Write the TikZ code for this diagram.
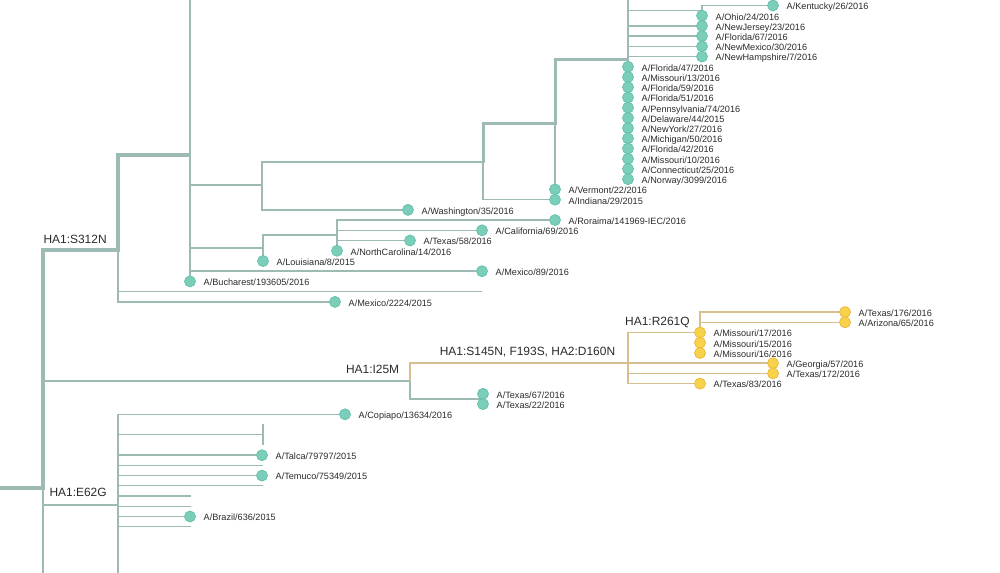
\documentclass[tikz,border=0pt]{standalone}
\usepackage{fontspec}
\setmainfont{Liberation Sans}
\usetikzlibrary{backgrounds}
\definecolor{treeline}{HTML}{9DBBB4}
\definecolor{goldline}{HTML}{D5BF8F}
\definecolor{mint}{HTML}{7ACEBA}
\definecolor{mintrim}{HTML}{62C1A9}
\definecolor{sun}{HTML}{F9D24B}
\definecolor{sunrim}{HTML}{E9B833}
\definecolor{labgray}{HTML}{2B2B2B}
\tikzset{
  strainlab/.style={font=\fontsize{5.2}{6}\selectfont,text=labgray,inner sep=0pt,
    text height=0.134cm,text depth=0pt,xshift=0.15cm,yshift=-0.02cm},
  strain/.style={circle,inner sep=0pt,minimum size=0.22cm,fill=mint,draw=mintrim,
    line width=0.4pt,label={[strainlab]right:#1}},
  strainy/.style={strain=#1,fill=sun,draw=sunrim},
  mut/.style={font=\fontsize{6.8}{8}\selectfont,text=labgray,inner sep=0pt,anchor=base east},
  br/.style={draw=treeline,line width=0.85pt},
  bropen/.style={draw=treeline,line width=0.7pt},
  brup/.style={draw=treeline,line width=1.15pt},
  brmid/.style={draw=treeline,line width=1.7pt},
  brfat/.style={draw=treeline,line width=2.3pt},
  brgold/.style={draw=goldline,line width=0.9pt}
}
\begin{document}
\begin{tikzpicture}[x=0.02cm,y=-0.02cm]
\useasboundingbox (0,0) rectangle (1000,573);

\coordinate (rootin) at (0,488);
\coordinate (root) at (43,488);
\coordinate (rootdown) at (43,580);
\coordinate (s312n) at (118,250);
\coordinate (n190) at (190,155);
\coordinate (up190) at (190,-5);
\coordinate (n262) at (262,185);
\coordinate (n483) at (483,162);
\coordinate (n555) at (555,124);
\coordinate (n628) at (628,60);
\coordinate (up628) at (628,-5);
\coordinate (n702) at (702,10.6);
\coordinate (n263) at (263,248);
\coordinate (n337) at (337,235);
\coordinate (open291) at (482,291.6);
\coordinate (i25m) at (410,381);
\coordinate (s145n) at (628,363.2);
\coordinate (r261q) at (700,332.5);
\coordinate (n483b) at (483,399);
\coordinate (e62g) at (118,505);
\coordinate (down118) at (118,580);
\coordinate (n263b) at (263,434.7);
\coordinate (n263top) at (263,424.5);
\coordinate (n263bot) at (263,444.9);
\coordinate (open465) at (263,465.4);
\coordinate (open486) at (263,485.8);
\coordinate (open496) at (191,496);
\coordinate (open506) at (191,506.3);
\coordinate (open527) at (191,526.7);

\node[strain=A/Kentucky/26/2016] (ky) at (773,5.5) {};
\node[strain=A/Ohio/24/2016] (oh) at (702,15.7) {};
\node[strain=A/NewJersey/23/2016] (nj) at (702,25.9) {};
\node[strain=A/Florida/67/2016] (fl67) at (702,36.1) {};
\node[strain=A/NewMexico/30/2016] (nm) at (702,46.4) {};
\node[strain=A/NewHampshire/7/2016] (nh) at (702,56.6) {};
\foreach \lab [count=\i from 0] in {Florida/47/2016,Missouri/13/2016,Florida/59/2016,
    Florida/51/2016,Pennsylvania/74/2016,Delaware/44/2015,NewYork/27/2016,
    Michigan/50/2016,Florida/42/2016,Missouri/10/2016,Connecticut/25/2016,Norway/3099/2016}{
  \node[strain=A/\lab] (col\i) at (628,{66.8+10.22*\i}) {};
}
\node[strain=A/Vermont/22/2016] (vt) at (555,189.4) {};
\node[strain=A/Indiana/29/2015] (ind) at (555,199.7) {};
\node[strain=A/Washington/35/2016] (wa) at (408,209.9) {};
\node[strain=A/Roraima/141969-IEC/2016] (rr) at (555,220.1) {};
\node[strain=A/California/69/2016] (ca) at (482,230.3) {};
\node[strain=A/Texas/58/2016] (tx58) at (410,240.5) {};
\node[strain=A/NorthCarolina/14/2016] (nc) at (337,250.8) {};
\node[strain=A/Louisiana/8/2015] (la) at (263,261) {};
\node[strain=A/Mexico/89/2016] (mx89) at (482,271.2) {};
\node[strain=A/Bucharest/193605/2016] (bu) at (190,281.4) {};
\node[strain=A/Mexico/2224/2015] (mx2224) at (335,301.9) {};
\node[strainy=A/Texas/176/2016] (tx176) at (845,312.1) {};
\node[strainy=A/Arizona/65/2016] (az) at (845,322.3) {};
\node[strainy=A/Missouri/17/2016] (mo17) at (700,332.5) {};
\node[strainy=A/Missouri/15/2016] (mo15) at (700,342.7) {};
\node[strainy=A/Missouri/16/2016] (mo16) at (700,353) {};
\node[strainy=A/Georgia/57/2016] (ga) at (773,363.2) {};
\node[strainy=A/Texas/172/2016] (tx172) at (773,373.4) {};
\node[strainy=A/Texas/83/2016] (tx83) at (700,383.6) {};
\node[strain=A/Texas/67/2016] (tx67) at (483,393.8) {};
\node[strain=A/Texas/22/2016] (tx22) at (483,404.1) {};
\node[strain=A/Copiapo/13634/2016] (cop) at (345,414.3) {};
\node[strain=A/Talca/79797/2015] (ta) at (262,455.2) {};
\node[strain=A/Temuco/75349/2015] (te) at (262,475.6) {};
\node[strain=A/Brazil/636/2015] (bz) at (190,516.5) {};

\node[mut] (lS312N) at (107,244) {HA1:S312N};
\node[mut] (lI25M) at (399.5,374) {HA1:I25M};
\node[mut] (lS145N) at (615.5,356) {HA1:S145N, F193S, HA2:D160N};
\node[mut] (lR261Q) at (690,326) {HA1:R261Q};
\node[mut] (lE62G) at (107,497) {HA1:E62G};

\begin{scope}[on background layer]
\fill[white] (0,0) rectangle (1000,573);
\draw[br] (root) -- (rootdown);
\draw[br] (root) |- (e62g);
\draw[br] (root) |- (i25m);
\draw[br] (s312n) |- (mx2224.center);
\draw[bropen] (s312n) |- (open291);
\draw[br] (n190) |- (n263);
\draw[br] (n190) |- (mx89.center);
\draw[br] (n190) |- (bu.center);
\draw[br] (n263) |- (n337);
\draw[br] (n263) |- (la.center);
\foreach \t in {rr,ca,tx58,nc}{
  \draw[br] (n337) |- (\t.center);
}
\draw[br] (n262) |- (wa.center);
\draw[br] (n483) |- (ind.center);
\draw[br] (n555) |- (vt.center);
\draw[brup] (up628) -- (n628);
\draw[br] (n628) |- (col11.center);
\draw[br] (n628) |- (n702);
\foreach \t in {nj,fl67,nm,nh}{
  \draw[br] (n628) |- (\t.center);
}
\draw[br] (n702) |- (ky.center);
\draw[br] (n702) |- (oh.center);
\draw[br] (i25m) |- (n483b);
\draw[br] (n483b) |- (tx67.center);
\draw[br] (n483b) |- (tx22.center);
\draw[brgold] (i25m) |- (s145n);
\foreach \t in {r261q,ga.center,tx172.center,tx83.center}{
  \draw[brgold] (s145n) |- (\t);
}
\foreach \t in {tx176,az,mo17,mo15,mo16}{
  \draw[brgold] (r261q) |- (\t.center);
}
\draw[br] (e62g) -- (down118);
\draw[br] (e62g) |- (cop.center);
\draw[bropen] (e62g) |- (n263b);
\draw[bropen] (n263top) -- (n263bot);
\foreach \t in {ta,te,bz}{
  \draw[br] (e62g) |- (\t.center);
}
\foreach \t in {open465,open486,open496,open506,open527}{
  \draw[bropen] (e62g) |- (\t);
}
\draw[brmid] (up190) -- (n190) |- (n262) |- (n483) |- (n555) |- (n628);
\draw[brfat] (rootin) -- (root) |- (s312n) |- (n190);
\end{scope}
\end{tikzpicture}
\end{document}
